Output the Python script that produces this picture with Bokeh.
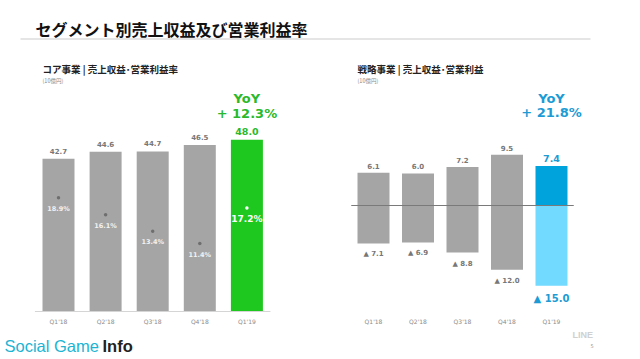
from bokeh.plotting import figure
from bokeh.models import Range1d, ColumnDataSource, Label
from bokeh.embed import file_html
from bokeh.resources import INLINE
from bokeh.core.properties import value

# ---- data ----
quarters = ["Q1'18", "Q2'18", "Q3'18", "Q4'18", "Q1'19"]
core_revenue = [42.7, 44.6, 44.7, 46.5, 48.0]
core_margin = [18.9, 16.1, 13.4, 11.4, 17.2]
core_yoy = "+ 12.3%"
strat_revenue = [6.1, 6.0, 7.2, 9.5, 7.4]
strat_profit = [-7.1, -6.9, -8.8, -12.0, -15.0]
strat_yoy = "+ 21.8%"

W, H = 640, 359
JP = "Noto Sans CJK JP"
NUM = "DejaVu Sans"
GREY = "#a5a5a5"
GREEN = "#1ec81e"
GREEN_T = "#2bb92b"
BLUE = "#00a3dc"
LBLUE = "#72d9ff"
BLUE_T = "#1d9bd4"

p = figure(width=W, height=H, output_backend="svg", toolbar_location=None,
           x_range=Range1d(0, W), y_range=Range1d(H, 0), min_border=0)
p.axis.visible = False
p.grid.visible = False
p.outline_line_color = None
p.background_fill_color = "white"

# scales: left chart
sp_l = 47.1
p.extra_x_ranges["lx"] = Range1d(-58 / sp_l, -58 / sp_l + W / sp_l)
k_l = 3.58
p.extra_y_ranges["ly"] = Range1d(-48 / k_l, -48 / k_l + H / k_l)
k_m = 6.13
p.extra_y_ranges["lm"] = Range1d(-46 / k_m, -46 / k_m + H / k_m)
# right chart
sp_r = 44.5
p.extra_x_ranges["rx"] = Range1d(-373 / sp_r, -373 / sp_r + W / sp_r)
k_r = 5.35
p.extra_y_ranges["ry"] = Range1d(-154 / k_r, -154 / k_r + H / k_r)

n = len(quarters)
idx = list(range(n))

# ---- title ----
p.add_layout(Label(x=35, y=28, text="セグメント別売上収益及び営業利益率", text_font=JP,
                   text_font_style="bold", text_font_size="16px", text_color="#111",
                   text_baseline="middle"))
p.segment(x0=[20], y0=[38.5], x1=[590], y1=[38.5], line_color="#dcdcdc", line_width=1.5)

# ---- left chart ----
p.add_layout(Label(x=42, y=68, text="コア事業 | 売上収益･営業利益率", text_font=JP,
                   text_font_style="bold", text_font_size="9.5px", text_color="#222",
                   text_baseline="middle"))
p.add_layout(Label(x=42, y=80, text="(10億円)", text_font=JP, text_font_size="5.5px",
                   text_color="#888", text_baseline="middle"))

lcols = [GREY] * (n - 1) + [GREEN]
src_l = ColumnDataSource(dict(x=idx, top=core_revenue, m=core_margin, q=quarters, c=lcols,
                              lab=[f"{v:.1f}" for v in core_revenue],
                              mlab=[f"{v:.1f}%" for v in core_margin],
                              lc=["#777"] * (n - 1) + [GREEN_T],
                              fs=["7px"] * (n - 1) + ["9.5px"],
                              mc=["#f2f2f2"] * (n - 1) + ["white"],
                              mfs=["6.5px"] * (n - 1) + ["9px"],
                              dc=["#6e6e6e"] * (n - 1) + ["white"]))
p.vbar(x="x", top="top", bottom=0, width=32 / sp_l, fill_color="c", line_color=None,
       source=src_l, x_range_name="lx", y_range_name="ly")
p.segment(x0=[-0.5], x1=[n - 0.5], y0=[0], y1=[0], line_color="#d5d5d5", line_width=1,
          x_range_name="lx", y_range_name="ly")
p.text(x="x", y="top", text="lab", source=src_l, x_range_name="lx", y_range_name="ly",
       text_align="center", text_baseline="bottom", y_offset=-5, text_font=value(NUM),
       text_font_size="fs", text_color="lc", text_font_style="bold")
p.scatter(x="x", y="m", size=3.5, fill_color="dc", line_color=None, source=src_l,
          x_range_name="lx", y_range_name="lm")
p.text(x="x", y="m", text="mlab", source=src_l, x_range_name="lx", y_range_name="lm",
       text_align="center", text_baseline="middle", y_offset=11, text_font=value(NUM),
       text_font_size="mfs", text_color="mc", text_font_style="bold")
p.text(x=idx, y=[321] * n, text=quarters, x_range_name="lx", text_align="center",
       text_baseline="middle", text_font=value(NUM), text_font_size="6px", text_color="#8a8a8a")
p.text(x=[n - 1, n - 1], y=[98, 113], text=["YoY", core_yoy], x_range_name="lx",
       text_align="center", text_baseline="middle", text_font=value(NUM),
       text_font_size="13px", text_font_style="bold", text_color=GREEN_T)

# ---- right chart ----
p.add_layout(Label(x=357, y=68, text="戦略事業 | 売上収益･営業利益", text_font=JP,
                   text_font_style="bold", text_font_size="9.5px", text_color="#222",
                   text_baseline="middle"))
p.add_layout(Label(x=357, y=80, text="(10億円)", text_font=JP, text_font_size="5.5px",
                   text_color="#888", text_baseline="middle"))

src_r = ColumnDataSource(dict(x=idx, top=strat_revenue, bot=strat_profit,
                              cp=[GREY] * (n - 1) + [BLUE], cn=[GREY] * (n - 1) + [LBLUE],
                              lab=[f"{v:.1f}" for v in strat_revenue],
                              nlab=[f"▲ {abs(v):.1f}" for v in strat_profit],
                              lc=["#777"] * (n - 1) + [BLUE_T],
                              fs=["7px"] * (n - 1) + ["9.5px"],
                              nfs=["7px"] * (n - 1) + ["10px"]))
p.vbar(x="x", top="top", bottom=0, width=32 / sp_r, fill_color="cp", line_color=None,
       source=src_r, x_range_name="rx", y_range_name="ry")
p.vbar(x="x", top=0, bottom="bot", width=32 / sp_r, fill_color="cn", line_color=None,
       source=src_r, x_range_name="rx", y_range_name="ry")
p.segment(x0=[-0.5], x1=[n - 0.5], y0=[0], y1=[0], line_color="#7a7a7a", line_width=1,
          x_range_name="rx", y_range_name="ry")
p.text(x="x", y="top", text="lab", source=src_r, x_range_name="rx", y_range_name="ry",
       text_align="center", text_baseline="bottom", y_offset=-4, text_font=value(NUM),
       text_font_size="fs", text_color="lc", text_font_style="bold")
p.text(x="x", y="bot", text="nlab", source=src_r, x_range_name="rx", y_range_name="ry",
       text_align="center", text_baseline="top", y_offset=7, text_font=value(NUM),
       text_font_size="nfs", text_color="lc", text_font_style="bold")
p.text(x=idx, y=[321] * n, text=quarters, x_range_name="rx", text_align="center",
       text_baseline="middle", text_font=value(NUM), text_font_size="6px", text_color="#8a8a8a")
p.text(x=[n - 1, n - 1], y=[98, 112], text=["YoY", strat_yoy], x_range_name="rx",
       text_align="center", text_baseline="middle", text_font=value(NUM),
       text_font_size="13px", text_font_style="bold", text_color=BLUE_T)

# ---- footer ----
p.add_layout(Label(x=4, y=345, text="Social Game", text_font="Liberation Sans",
                   text_font_size="16.5px", text_color="#1bb4d3", text_baseline="middle"))
p.add_layout(Label(x=102, y=345, text="Info", text_font="Liberation Sans",
                   text_font_style="bold", text_font_size="16.5px", text_color="#222",
                   text_baseline="middle"))
p.add_layout(Label(x=572, y=334, text="LINE", text_font="Liberation Sans",
                   text_font_style="bold", text_font_size="9px", text_color="#d0d0d0",
                   text_baseline="middle"))
p.add_layout(Label(x=590, y=345, text="5", text_font=NUM, text_font_size="5px",
                   text_color="#999", text_baseline="middle"))

open("out.html", "w").write(file_html(p, INLINE))
